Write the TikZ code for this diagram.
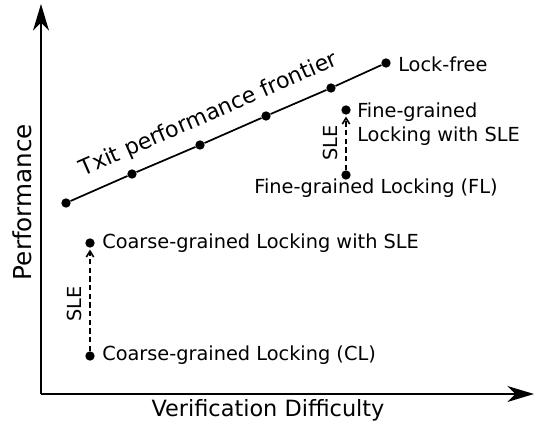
\documentclass[tikz,border=0pt]{standalone}
\usepackage{fontspec}
\setmainfont{DejaVu Sans}
\usetikzlibrary{arrows.meta}
\begin{document}
\begin{tikzpicture}[x=0.75pt,y=-0.75pt,
  dot/.style={circle,fill=black,inner sep=0pt,minimum size=7pt},
  lbl/.style={font=\fontsize{14.5}{17.3}\selectfont,inner sep=0pt},
  axis/.style={line width=1.2pt,-{Stealth[length=20pt,width=12pt,inset=6pt]}},
  sle/.style={line width=1.2pt,dash pattern=on 4pt off 2.5pt,
    -{Straight Barb[length=4.5pt,width=5.5pt,line width=1.2pt]},shorten >=1.2pt}]
\useasboundingbox (0,0) rectangle (539,424);
% axes
\coordinate (o) at (41,394);
\coordinate (ytop) at (41,4);
\coordinate (xend) at (534,394);
\draw[axis] (o) -- (ytop);
\draw[axis] (o) -- (xend);
\node[lbl,font=\fontsize{18.5}{20}\selectfont,rotate=90] (ylab) at (22,202) {Performance};
\node[lbl,font=\fontsize{16.8}{19}\selectfont] (xlab) at (268,410) {Verification Difficulty};
% frontier
\foreach \i/\x/\y in {0/66/203,1/132/174,2/200/145,3/266/116,4/331/88,5/386/63}
  \node[dot] (f\i) at (\x,\y) {};
\draw[line width=1.3pt] (f0) -- (f1) -- (f2) -- (f3) -- (f4) -- (f5);
\node[lbl,font=\fontsize{16.6}{19}\selectfont,rotate=23.6] (flab) at (209,115) {Txit performance frontier};
\node[lbl,anchor=west] (lf) at (398,64) {Lock-free};
% fine-grained
\node[dot] (fl) at (346,175) {};
\node[dot] (fs) at (346,110) {};
\draw[sle] (fl) -- (fs);
\node[lbl,rotate=90] (s1) at (330,143) {SLE};
\node[lbl] (fllab) at (376,188) {Fine-grained Locking (FL)};
\node[lbl,anchor=north west,align=left] (fslab) at (357,103) {Fine-grained\\Locking with SLE};
% coarse-grained
\node[dot] (cl) at (90,356) {};
\node[dot] (cs) at (90,243) {};
\draw[sle] (cl) -- (cs);
\node[lbl,rotate=90] (s2) at (74,304) {SLE};
\node[lbl,anchor=west] (cllab) at (102,355) {Coarse-grained Locking (CL)};
\node[lbl,anchor=west] (cslab) at (102,243) {Coarse-grained Locking with SLE};
\end{tikzpicture}
\end{document}
